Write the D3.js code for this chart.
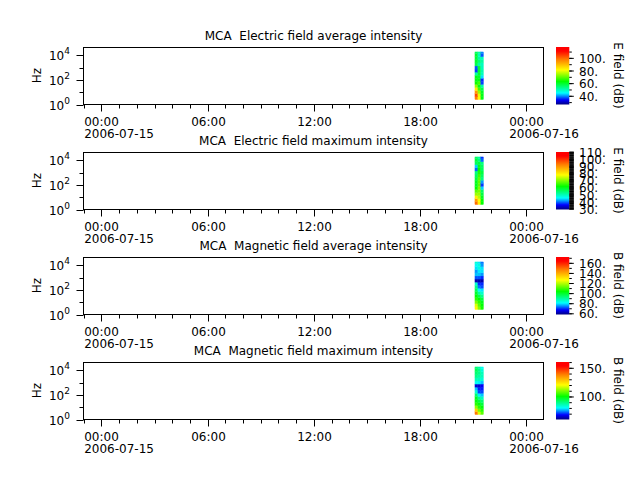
<!DOCTYPE html>
<html><head><meta charset="utf-8">
<script src="https://cdn.jsdelivr.net/npm/d3@7"></script>
<style>
body{margin:0;background:#fff}
svg{display:block}
text{font-family:"DejaVu Sans",sans-serif;font-size:12px;fill:#000}
</style>
</head><body><svg id="c" width="640" height="480"></svg>
<script>
// ---------- data ----------
const titles = ["MCA  Electric field average intensity","MCA  Electric field maximum intensity","MCA  Magnetic field average intensity","MCA  Magnetic field maximum intensity"];
const cbLabels = ["E field (dB)","E field (dB)","B field (dB)","B field (dB)"];
const cbDomains = [[27,118],[29.5,111],[58.6,172.6],[60.7,161]];
const cbMajorTicks = [[40,60,80,100],[30,40,50,60,70,80,90,100,110],[60,80,100,120,140,160],[100,150]];
const cbMinorStep = [10,1,10,10];
const freqChannels = [3.16,5.62,10,17.8,31.6,56.2,100,178,316,562,1000,1780,3160,5620,10000,17800];
const freqRange = [2.5,18400];
const freqDomain = [1,42000];
const freqTicks = [1,10,100,1000,10000];
const timeDomain = ["2006-07-14T22:59:00Z","2006-07-16T00:58:30Z"];
const timeEdges = ["2006-07-15T21:06:00Z","2006-07-15T21:16:00Z","2006-07-15T21:26:00Z","2006-07-15T21:35:00Z"];
// rows: frequency channel (low -> high), columns: time bins
const eAvg = [
 [98,82,62],[104,80,62],[95,74,61],[84,68,58],[74,62,52],[64,68,37],[62,62,36],[62,60,44],
 [52,60,50],[37,60,51],[38,60,50],[58,52,50],[60,55,52],[59,52,50],[60,50,38],[57,52,40]];
const eMax = [
 [95,80,62],[90,78,62],[80,74,60],[72,72,58],[68,70,56],[62,70,44],[60,68,38],[60,68,42],
 [58,68,54],[56,66,56],[54,64,58],[40,62,56],[44,60,56],[56,58,54],[58,54,40],[56,52,38]];
const bAvg = [
 [128,116,106],[124,112,104],[115,108,102],[108,104,98],[104,98,92],[100,90,86],[96,82,80],[92,74,72],
 [86,70,70],[62,62,62],[72,72,70],[78,78,76],[76,80,80],[80,84,80],[82,84,76],[85,80,74]];
const bMax = [
 [140,118,108],[128,110,104],[112,104,100],[104,100,96],[100,96,92],[98,90,86],[92,80,78],[84,72,72],
 [78,70,70],[66,66,68],[82,80,78],[86,86,84],[90,88,86],[92,90,86],[94,90,84],[92,88,82]];
const panelData = [eAvg,eMax,bAvg,bMax];
const cmapStops = [0,0.08,0.2,0.4,0.6,0.78,0.93,1];
const cmapColors = ["#000080","#0000ff","#00ffff","#00ff00","#ffff00","#ff8000","#ff0000","#ff0000"];

// ---------- drawing ----------
const svg = d3.select("#c");
const cmap = d3.scaleLinear().domain(cmapStops).range(cmapColors).interpolate(d3.interpolateRgb).clamp(true);
const parse = d3.isoParse;
const L = 83.5, R = 543.5;
const x = d3.scaleUtc().domain(timeDomain.map(parse)).range([L, R]);
const tEdges = timeEdges.map(parse);
const fEdges = [freqRange[0]];
for (let i = 1; i < freqChannels.length; i++) fEdges.push(Math.sqrt(freqChannels[i-1]*freqChannels[i]));
fEdges.push(freqRange[1]);
const fmtTime = d3.utcFormat("%H:%M"), fmtDate = d3.utcFormat("%Y-%m-%d");
const defs = svg.append("defs");

panelData.forEach((data, p) => {
  const top = 47 + 105*p, bot = top + 57;
  const g = svg.append("g");
  const y = d3.scaleLog().domain(freqDomain).range([bot + 0.5, top + 0.5]);
  const c = d3.scaleLinear().domain(cbDomains[p]).range([0,1]);

  // spectrogram cells
  data.forEach((row, fi) => {
    row.forEach((v, ti) => {
      const x0 = x(tEdges[ti]), x1 = x(tEdges[ti+1]);
      const y0 = y(fEdges[fi+1]), y1 = y(fEdges[fi]);
      g.append("rect").attr("x", x0).attr("y", y0).attr("width", x1-x0).attr("height", y1-y0)
        .attr("fill", cmap(c(v))).attr("stroke", cmap(c(v))).attr("stroke-width", 0.3);
    });
  });

  // frame
  g.append("rect").attr("x", L).attr("y", top+0.5).attr("width", R-L).attr("height", 57)
    .attr("fill","none").attr("stroke","#000").attr("stroke-width",1);

  // x ticks
  const minor = d3.utcHour.every(1).range(x.domain()[0], x.domain()[1]);
  minor.forEach(t => {
    const major = t.getUTCHours() % 6 === 0;
    const xx = Math.round(x(t)) + 0.5;
    g.append("line").attr("x1",xx).attr("x2",xx).attr("y1",bot+0.5).attr("y2",bot+0.5+(major?7:4))
      .attr("stroke","#000").attr("stroke-width",1);
    if (major) {
      const tl = g.append("text").attr("x", xx).attr("y", bot+21.5).attr("text-anchor","middle").text(fmtTime(t));
      if (t.getUTCHours() === 0) {
        const w = tl.node().getComputedTextLength();
        g.append("text").attr("x", xx - w/2).attr("y", bot+33.5).attr("text-anchor","start").text(fmtDate(t));
      }
    }
  });

  // y ticks
  freqTicks.forEach((f, i) => {
    const yy = Math.round(y(f)) + 0.5;
    if (yy < top) return;
    const major = i % 2 === 0;
    g.append("line").attr("x1", L).attr("x2", L-(major?7:4)).attr("y1",yy).attr("y2",yy)
      .attr("stroke","#000").attr("stroke-width",1);
    if (major) {
      const t = g.append("text").attr("x", 70).attr("y", yy+4).attr("text-anchor","end");
      t.append("tspan").text("10");
      t.append("tspan").attr("dy",-5.5).style("font-size","9px").text(String(Math.round(Math.log10(f))));
    }
  });
  g.append("text").attr("transform",`translate(41,${(top+bot)/2}) rotate(-90)`)
    .attr("text-anchor","middle").text("Hz");

  // title
  g.append("text").attr("x",(L+R)/2).attr("y",top-7.5).attr("text-anchor","middle")
    .style("white-space","pre").text(titles[p]);

  // colorbar
  const gid = "grad"+p;
  const grad = defs.append("linearGradient").attr("id",gid).attr("x1",0).attr("x2",0).attr("y1",1).attr("y2",0);
  d3.range(0, 1.0001, 0.02).forEach(s => grad.append("stop").attr("offset", s).attr("stop-color", cmap(s)));
  const cbX = 556, cbW = 13.3;
  g.append("rect").attr("x",cbX).attr("y",top).attr("width",cbW).attr("height",57.5).attr("fill",`url(#${gid})`);
  const cy = d3.scaleLinear().domain(cbDomains[p]).range([bot+0.5, top]);
  const d0 = cbDomains[p][0], d1 = cbDomains[p][1], st = cbMinorStep[p];
  for (let v = Math.ceil(d0/st)*st; v <= d1; v += st) {
    const yy = cy(v);
    g.append("line").attr("x1",cbX+cbW).attr("x2",cbX+cbW+(st===1?4.5:2.5)).attr("y1",yy).attr("y2",yy)
      .attr("stroke","#000").attr("stroke-width",1);
  }
  cbMajorTicks[p].forEach(v => {
    const yy = cy(v);
    g.append("line").attr("x1",cbX+cbW).attr("x2",cbX+cbW+4.5).attr("y1",yy).attr("y2",yy)
      .attr("stroke","#000").attr("stroke-width",1);
    g.append("text").attr("x",579).attr("y",yy+4.5).text(v + ".");
  });
  g.append("text").attr("transform",`translate(614,${(top+bot)/2}) rotate(90)`)
    .attr("text-anchor","middle").text(cbLabels[p]);
});
</script>
</body></html>
